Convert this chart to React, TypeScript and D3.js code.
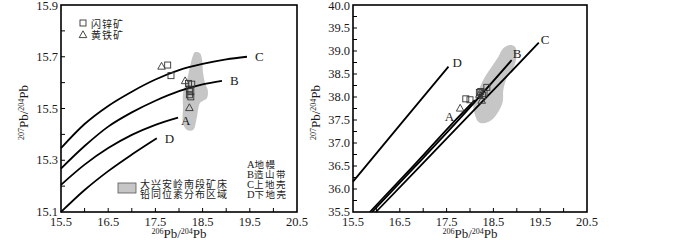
import React from "react";
import * as d3 from "d3";

// ---------- data ----------
const xTickLabels = ["15.5", "16.5", "17.5", "18.5", "19.5", "20.5"];
const yTickLabelsL = ["15.1", "15.3", "15.5", "15.7", "15.9"];
const yTickLabelsR = ["35.5", "36.0", "36.5", "37.0", "37.5", "38.0", "38.5", "39.0", "39.5", "40.0"];

// 207Pb/204Pb vs 206Pb/204Pb evolution curves (left panel)
const curveC_L: [number, number][] = [[15.5, 15.347], [16.0, 15.44], [16.5, 15.51], [17.0, 15.565], [17.5, 15.612], [18.0, 15.648], [18.5, 15.672], [19.0, 15.69], [19.44, 15.70]];
const curveB_L: [number, number][] = [[15.5, 15.268], [16.0, 15.355], [16.5, 15.43], [17.0, 15.485], [17.5, 15.53], [18.0, 15.567], [18.5, 15.593], [18.91, 15.607]];
const curveA_L: [number, number][] = [[15.5, 15.205], [16.0, 15.283], [16.5, 15.347], [17.0, 15.398], [17.5, 15.437], [17.98, 15.465]];
const curveD_L: [number, number][] = [[15.5, 15.10], [16.0, 15.185], [16.5, 15.258], [17.0, 15.322], [17.53, 15.385]];

// 208Pb/204Pb vs 206Pb/204Pb (right panel)
const curveA_R: [number, number][] = [[15.86, 35.5], [16.78, 36.49], [17.74, 37.55], [18.1, 37.93]];
const curveB_R: [number, number][] = [[15.91, 35.5], [16.83, 36.49], [17.79, 37.54], [18.89, 38.8]];
const curveC_R: [number, number][] = [[15.99, 35.5], [16.9, 36.46], [17.9, 37.52], [18.7, 38.36], [19.47, 39.18]];
const curveD_R: [number, number][] = [[15.5, 36.16], [16.5, 37.39], [17.54, 38.66]];

// field of ore-lead isotopes (outline)
const fieldL: [number, number][] = [[18.34, 15.718], [18.445, 15.714], [18.49, 15.687], [18.51, 15.637], [18.55, 15.599], [18.61, 15.571], [18.59, 15.54], [18.445, 15.521], [18.38, 15.467], [18.3, 15.417], [18.17, 15.417], [18.085, 15.444], [18.085, 15.506], [18.085, 15.56], [18.17, 15.61], [18.23, 15.66], [18.3, 15.707]];
const fieldR: [number, number][] = [[18.855, 39.13], [18.96, 39.093], [18.998, 38.913], [18.925, 38.624], [18.784, 38.407], [18.712, 38.152], [18.699, 37.898], [18.605, 37.68], [18.464, 37.5], [18.284, 37.428], [18.177, 37.463], [18.107, 37.609], [18.071, 37.826], [18.143, 38.043], [18.214, 38.224], [18.32, 38.441], [18.464, 38.659], [18.605, 38.876], [18.712, 39.059]];

// samples
const sphaleriteL: [number, number][] = [[17.76, 15.668], [17.83, 15.627], [18.2, 15.597], [18.27, 15.594], [18.22, 15.575], [18.25, 15.565], [18.22, 15.553], [18.25, 15.545]];
const pyriteL: [number, number][] = [[17.63, 15.662], [18.13, 15.606], [18.22, 15.502]];
const sphaleriteR: [number, number][] = [[17.91, 37.96], [18.0, 37.94], [18.23, 38.12], [18.3, 38.08], [18.36, 38.21], [18.27, 38.03], [18.2, 38.1]];
const pyriteR: [number, number][] = [[17.79, 37.75], [18.25, 37.92], [18.2, 38.05]];

const rockLegend = ["A地幔", "B造山带", "C上地壳", "D下地壳"];
const fieldLegend = ["大兴安岭南段矿床", "铅同位素分布区域"];
const sampleLegend = ["闪锌矿", "黄铁矿"];

// ---------- drawing ----------
const serif = "'Liberation Serif', 'DejaVu Serif', serif";
const cjk = "'Noto Sans CJK SC', sans-serif";
const ink = "#1a1a1a";
const gray = "#c6c6c6";

type Sc = d3.ScaleLinear<number, number>;

function Square({ x, y }: { x: number; y: number }) {
  return <rect x={x - 3} y={y - 3} width={6} height={6} fill="none" stroke="#333" strokeWidth={0.9} />;
}
function Tri({ x, y }: { x: number; y: number }) {
  return <path d={`M${x},${y - 4.2}L${x + 3.8},${y + 2.6}L${x - 3.8},${y + 2.6}Z`} fill="none" stroke="#333" strokeWidth={0.9} />;
}

function IsoLabel({ x, y, rotate, a, b }: { x: number; y: number; rotate?: boolean; a: string; b: string }) {
  return (
    <text
      x={x}
      y={y}
      textAnchor="middle"
      fontFamily={serif}
      fontSize={13}
      fill={ink}
      transform={rotate ? `rotate(-90 ${x} ${y})` : undefined}
    >
      <tspan fontSize={8} dy={-4}>{a}</tspan>
      <tspan dy={4}>Pb/</tspan>
      <tspan fontSize={8} dy={-4}>{b}</tspan>
      <tspan dy={4}>Pb</tspan>
    </text>
  );
}

function Panel({
  x, y, yLabels, yMinor, curves, labels, field, sph, pyr, yA,
}: {
  x: Sc; y: Sc; yLabels: string[]; yMinor: number; curves: [number, number][][];
  labels: { t: string; p: [number, number]; dx: number; dy: number }[];
  field: [number, number][]; sph: [number, number][]; pyr: [number, number][]; yA: string;
}) {
  const [x0, x1] = x.range();
  const [y0, y1] = y.range();
  const line = d3.line<[number, number]>().x(d => x(d[0])).y(d => y(d[1])).curve(d3.curveMonotoneX);
  const blob = d3.line<[number, number]>().x(d => x(d[0])).y(d => y(d[1])).curve(d3.curveCatmullRomClosed.alpha(0.5));
  const xd = x.domain();
  const yd = y.domain();
  const xMinorTicks = d3.range(xd[0] + 0.5, xd[1] - 0.01, 0.5);
  const yMinorTicks = d3.range(yd[0] + yMinor, yd[1] - 0.001, yMinor);
  return (
    <g>
      <path d={blob(field) || ""} fill={gray} stroke="none" />
      {curves.map((c, i) => (
        <path key={i} d={line(c) || ""} fill="none" stroke="#000" strokeWidth={1.8} />
      ))}
      {labels.map((l, i) => (
        <text key={i} x={x(l.p[0]) + l.dx} y={y(l.p[1]) + l.dy} fontFamily={serif} fontSize={13} fill={ink} dominantBaseline="central">{l.t}</text>
      ))}
      {sph.map((p, i) => <Square key={"s" + i} x={x(p[0])} y={y(p[1])} />)}
      {pyr.map((p, i) => <Tri key={"t" + i} x={x(p[0])} y={y(p[1])} />)}
      {/* frame */}
      <rect x={x0} y={y1} width={x1 - x0} height={y0 - y1} fill="none" stroke="#000" strokeWidth={1.6} />
      {xMinorTicks.map((t, i) => (
        <line key={"xm" + i} x1={x(t)} x2={x(t)} y1={y0} y2={y0 - 4} stroke="#000" strokeWidth={1} />
      ))}
      {yMinorTicks.map((t, i) => (
        <line key={"ym" + i} x1={x0} x2={x0 + 4} y1={y(t)} y2={y(t)} stroke="#000" strokeWidth={1} />
      ))}
      {xTickLabels.map(t => (
        <text key={t} x={x(+t)} y={y0 + 10} textAnchor="middle" fontFamily={serif} fontSize={12.5} fill={ink} dominantBaseline="central">{t}</text>
      ))}
      {yLabels.map(t => (
        <text key={t} x={x0 - 3} y={Math.max(y(+t), 6)} textAnchor="end" fontFamily={serif} fontSize={12.5} fill={ink} dominantBaseline="central">{t}</text>
      ))}
      <IsoLabel x={(x0 + x1) / 2} y={y0 + 26} a="206" b="204" />
      <IsoLabel x={x0 - 33} y={(y0 + y1) / 2 + 4} rotate a={yA} b="204" />
    </g>
  );
}

export default function App() {
  const xL = d3.scaleLinear().domain([15.5, 20.5]).range([61, 297]);
  const yL = d3.scaleLinear().domain([15.1, 15.9]).range([212, 5]);
  const xR = d3.scaleLinear().domain([15.5, 20.5]).range([353, 587]);
  const yR = d3.scaleLinear().domain([35.5, 40]).range([212, 5]);

  const last = (c: [number, number][]) => c[c.length - 1];

  return (
    <div style={{ position: "absolute", left: 0, top: 0 }}>
      <svg width={700} height={240} style={{ display: "block", background: "#fff" }}>
        <Panel
          x={xL} y={yL} yLabels={yTickLabelsL} yMinor={0.1}
          curves={[curveC_L, curveB_L, curveA_L, curveD_L]}
          labels={[
            { t: "C", p: last(curveC_L), dx: 8, dy: 0 },
            { t: "B", p: last(curveB_L), dx: 8, dy: 0 },
            { t: "A", p: last(curveA_L), dx: 3, dy: 3 },
            { t: "D", p: last(curveD_L), dx: 8, dy: 0 },
          ]}
          field={fieldL} sph={sphaleriteL} pyr={pyriteL} yA="207"
        />
        <Panel
          x={xR} y={yR} yLabels={yTickLabelsR} yMinor={0.25}
          curves={[curveA_R, curveB_R, curveC_R, curveD_R]}
          labels={[
            { t: "A", p: curveA_R[2], dx: -13, dy: -1 },
            { t: "B", p: last(curveB_R), dx: 1, dy: -7 },
            { t: "C", p: last(curveC_R), dx: 2, dy: -3 },
            { t: "D", p: last(curveD_R), dx: 4, dy: -4 },
          ]}
          field={fieldR} sph={sphaleriteR} pyr={pyriteR} yA="207"
        />
        {/* sample legend */}
        <g>
          <Square x={83} y={23} />
          <Tri x={83} y={35} />
          {sampleLegend.map((t, i) => (
            <text key={t} x={91} y={23 + i * 11.5} fontFamily={cjk} fontSize={10} letterSpacing={1} fill={ink} dominantBaseline="central">{t}</text>
          ))}
        </g>
        {/* field legend */}
        <g>
          <rect x={118} y={183} width={18} height={10} fill={gray} stroke="#555" strokeWidth={0.8} />
          {fieldLegend.map((t, i) => (
            <text key={t} x={140} y={183 + i * 10.5} fontFamily={cjk} fontSize={10} letterSpacing={1} fill={ink} dominantBaseline="central">{t}</text>
          ))}
        </g>
        {/* reservoir legend */}
        <g>
          {rockLegend.map((t, i) => (
            <text key={t} x={247} y={164 + i * 10} fontSize={9.5} fill={ink} dominantBaseline="central">
              <tspan fontFamily={serif} fontSize={10.5}>{t[0]}</tspan>
              <tspan fontFamily={cjk} letterSpacing={1.5}>{t.slice(1)}</tspan>
            </text>
          ))}
        </g>
      </svg>
    </div>
  );
}
